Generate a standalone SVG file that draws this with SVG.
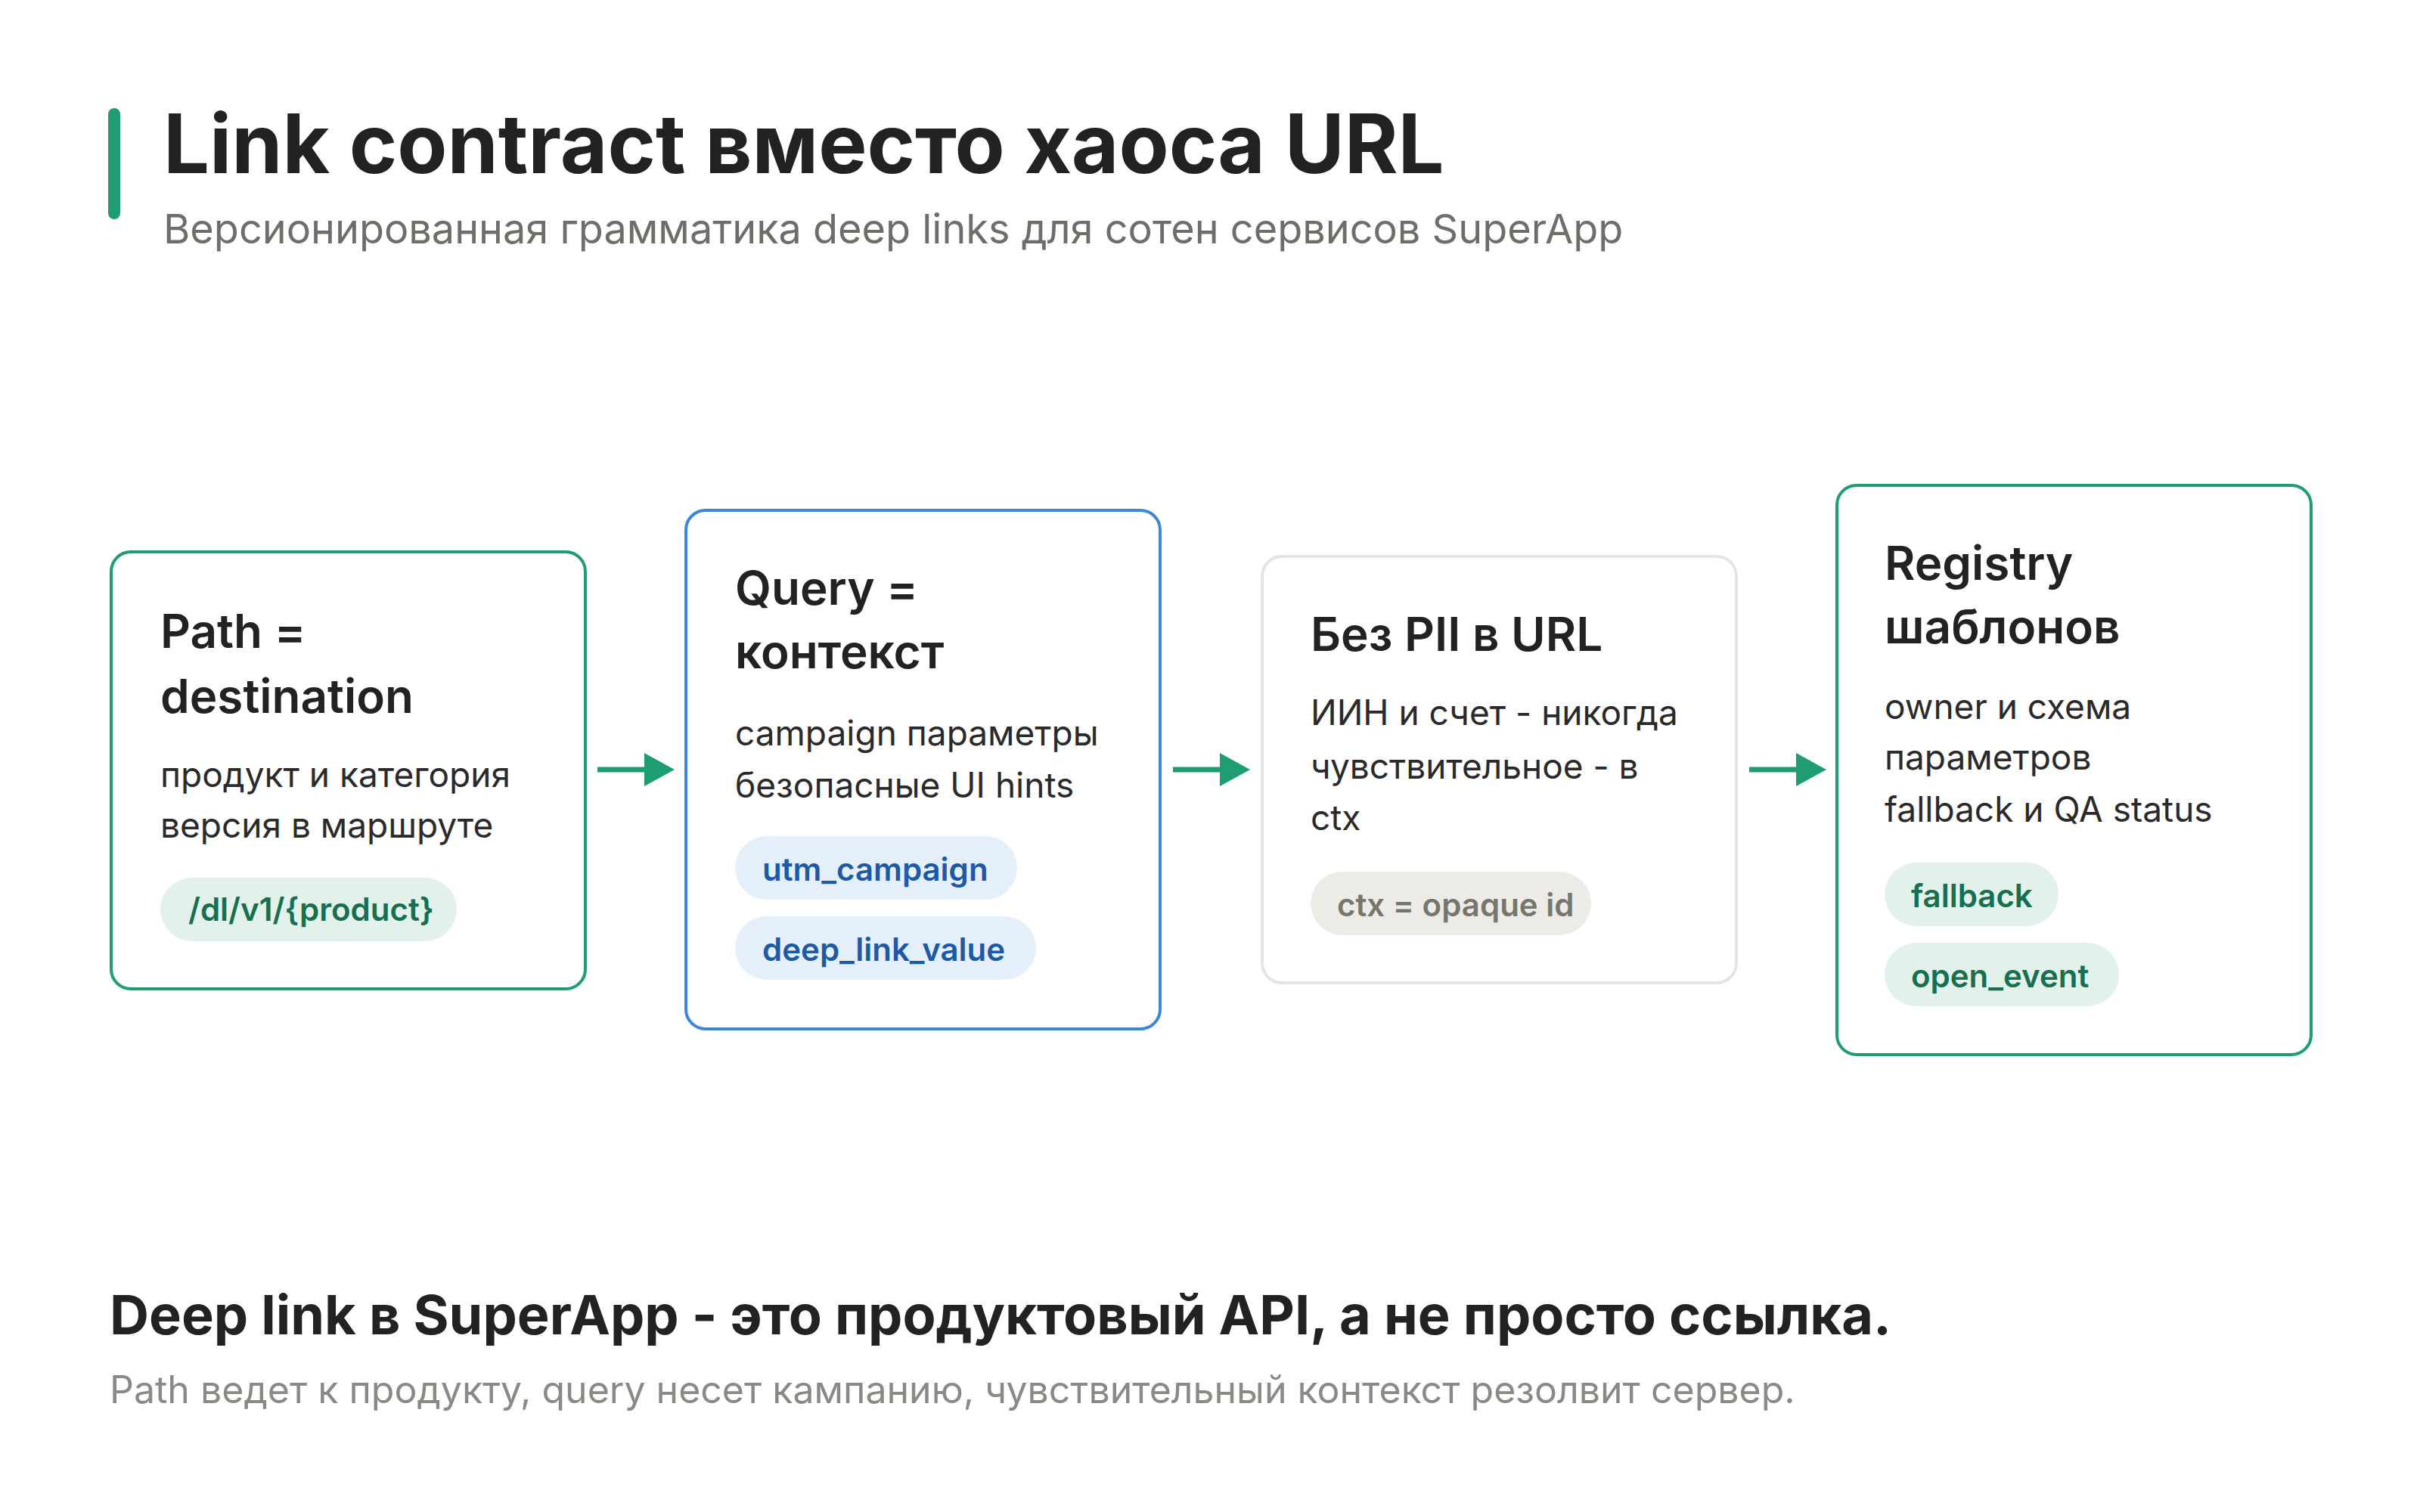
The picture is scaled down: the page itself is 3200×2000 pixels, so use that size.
<svg xmlns="http://www.w3.org/2000/svg" width="3200" height="2000" viewBox="0 0 3200 2000">
<style>
text{font-family:Inter,"Noto Sans",sans-serif}
.t{font-size:62px;font-weight:600;fill:#222}
.b{font-size:46px;fill:#2a2a2a}
.p{font-size:42px;font-weight:600}
.box{fill:#fff;stroke-width:4}
.conn{stroke:#1f9d72;stroke-width:7;fill:none}
</style>
<defs><marker id="ah" viewBox="0 0 10 10" refX="9" refY="5" markerWidth="5" markerHeight="5" markerUnits="userSpaceOnUse" orient="auto"><path d="M0,0L10,5L0,10z" fill="#1f9d72"/></marker></defs>
<rect width="3200" height="2000" fill="#fff"/>
<rect x="143" y="143" width="16" height="147" rx="8" fill="#1f9d72"/>
<text x="216" y="229" font-size="108" font-weight="700" fill="#222">Link contract вместо хаоса URL</text>
<text x="216" y="322" font-size="54" fill="#6e6e69">Версионированная грамматика deep links для сотен сервисов SuperApp</text>
<g id="connectors">
<path class="conn" d="M790,1018H855"/><path d="M852,996L892,1018L852,1040z" fill="#1f9d72"/>
<path class="conn" d="M1551,1018H1616"/><path d="M1613,996L1653,1018L1613,1040z" fill="#1f9d72"/>
<path class="conn" d="M2313,1018H2378"/><path d="M2375,996L2415,1018L2375,1040z" fill="#1f9d72"/>
</g>
<g id="n1">
<rect class="box" x="147" y="730" width="627" height="578" rx="26" stroke="#1f9d72"/>
<text class="t" x="212" y="857">Path =</text><text class="t" x="212" y="943">destination</text>
<text class="b" x="212" y="1041">продукт и категория</text><text class="b" x="212" y="1108">версия в маршруте</text>
<rect x="212" y="1161" width="392" height="84" rx="42" fill="#e2f1ea"/>
<text class="p" x="249" y="1218" fill="#16704f">/dl/v1/{product}</text>
</g>
<g id="n2">
<rect class="box" x="907" y="675" width="627" height="686" rx="26" stroke="#3b86d8"/>
<text class="t" x="972" y="800">Query =</text><text class="t" x="972" y="884">контекст</text>
<text class="b" x="972" y="986">campaign параметры</text><text class="b" x="972" y="1055">безопасные UI hints</text>
<rect x="972" y="1106" width="373" height="84" rx="42" fill="#e5effa"/>
<text class="p" x="1008" y="1165" fill="#1d5aa6">utm_campaign</text>
<rect x="972" y="1212" width="398" height="84" rx="42" fill="#e5effa"/>
<text class="p" x="1008" y="1271" fill="#1d5aa6">deep_link_value</text>
</g>
<g id="n3">
<rect class="box" x="1669" y="736" width="627" height="564" rx="26" stroke="#e6e4dc"/>
<text class="t" x="1733" y="861">Без PII в URL</text>
<text class="b" x="1733" y="959">ИИН и счет - никогда</text><text class="b" x="1733" y="1030">чувствительное - в</text><text class="b" x="1733" y="1098">ctx</text>
<rect x="1733" y="1153" width="371" height="84" rx="42" fill="#ecebe5"/>
<text class="p" x="1768" y="1212" fill="#77766e" font-weight="500">ctx = opaque id</text>
</g>
<g id="n4">
<rect class="box" x="2429" y="642" width="627" height="753" rx="26" stroke="#1f9d72"/>
<text class="t" x="2492" y="767">Registry</text><text class="t" x="2492" y="851">шаблонов</text>
<text class="b" x="2492" y="951">owner и схема</text><text class="b" x="2492" y="1018">параметров</text><text class="b" x="2492" y="1087">fallback и QA status</text>
<rect x="2492" y="1141" width="230" height="84" rx="42" fill="#e2f1ea"/>
<text class="p" x="2527" y="1200" fill="#16704f">fallback</text>
<rect x="2492" y="1247" width="310" height="84" rx="42" fill="#e2f1ea"/>
<text class="p" x="2527" y="1306" fill="#16704f">open_event</text>
</g>
<text x="145" y="1765" font-size="72" font-weight="700" fill="#222">Deep link в SuperApp - это продуктовый API, а не просто ссылка.</text>
<text x="145" y="1856" font-size="50" fill="#8a8a85">Path ведет к продукту, query несет кампанию, чувствительный контекст резолвит сервер.</text>
</svg>
